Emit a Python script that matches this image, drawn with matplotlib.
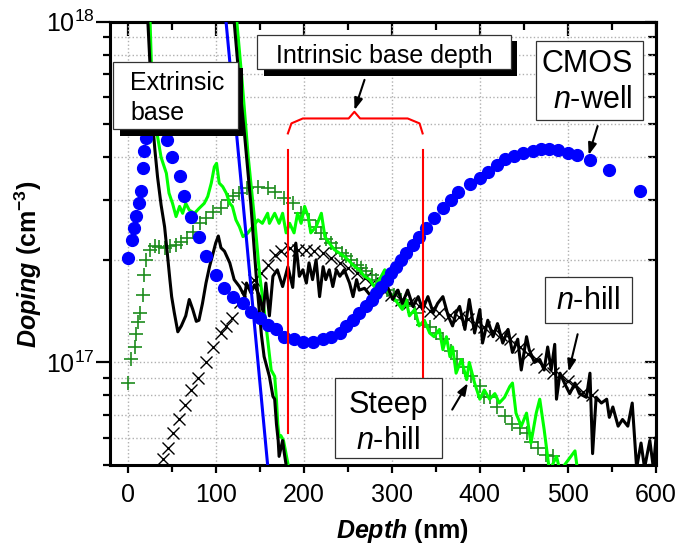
import matplotlib
matplotlib.use('Agg')
import numpy as np
import matplotlib.pyplot as plt
from matplotlib.patches import Rectangle
from matplotlib.ticker import LogLocator, NullFormatter, MultipleLocator

# ---------------- data ----------------
# CMOS n-well (blue circles)
nwell_x = [0, 5, 7.6, 9.5, 13, 15, 17, 19, 21, 24, 27, 31, 36, 41, 45, 50, 59, 64, 72, 81, 89,
           100, 110, 120, 131, 140, 150, 159, 169, 178, 189, 199, 210, 222, 231, 241, 248, 256,
           263, 271, 277, 282, 288, 294, 299, 305, 311, 316, 324, 331, 339, 348, 358, 367, 375,
           389, 400, 409, 419, 429, 439, 449, 460, 469, 479, 489, 500, 510, 525, 547, 582]
nwell_y = [2.03e17, 2.28e17, 2.48e17, 2.69e17, 2.93e17, 3.19e17, 3.71e17, 4.16e17, 4.55e17,
           5.1e17, 5.6e17, 5.9e17, 5.8e17, 5.2e17, 4.5e17, 4.0e17, 3.52e17, 3.07e17, 2.68e17,
           2.34e17, 2.05e17, 1.81e17, 1.65e17, 1.56e17, 1.49e17, 1.41e17, 1.35e17, 1.29e17,
           1.25e17, 1.19e17, 1.17e17, 1.15e17, 1.15e17, 1.17e17, 1.19e17, 1.22e17, 1.28e17,
           1.33e17, 1.40e17, 1.46e17, 1.53e17, 1.60e17, 1.67e17, 1.75e17, 1.83e17, 1.91e17,
           2.00e17, 2.09e17, 2.21e17, 2.34e17, 2.48e17, 2.65e17, 2.83e17, 3.00e17, 3.17e17,
           3.34e17, 3.48e17, 3.63e17, 3.80e17, 3.95e17, 4.04e17, 4.11e17, 4.18e17, 4.23e17,
           4.23e17, 4.20e17, 4.13e17, 4.06e17, 3.93e17, 3.66e17, 3.19e17]

# base profile (blue line)
base_x = [111, 159]
base_y = [1.05e18, 5.0e16]

# n-hill SIMS steep part (black) and steep n-hill SIMS steep part (green)
nh_steep_x = [119, 121, 127, 133, 140, 146, 152, 155, 161, 165, 167, 169, 171, 172, 176, 178, 180, 181]
nh_steep_y = [1.15e18, 1.0e18, 6.6e17, 4.6e17, 2.9e17, 1.8e17, 1.2e17, 1.04e17, 9.1e16, 7.95e16,
              7.8e16, 6.6e16, 5.9e16, 5.3e16, 5.9e16, 5.4e16, 5.0e16, 4.8e16]
snh_steep_x = [122, 124, 130, 137, 145, 150, 155, 159, 163, 167, 169, 170.5, 172, 174, 177, 179, 182, 183]
snh_steep_y = [1.15e18, 1.0e18, 6.7e17, 4.0e17, 2.5e17, 1.8e17, 1.43e17, 1.17e17, 9.5e16, 9.1e16,
               7.8e16, 6.6e16, 6.05e16, 6.1e16, 5.9e16, 5.55e16, 5.05e16, 4.8e16]

# n-hill SIMS (black noisy)
nh_x = [21, 23, 26, 28, 31, 34, 38, 42, 45, 48, 50, 53, 57, 61, 66, 70, 74, 78, 81, 85, 89, 93,
        97, 100, 103, 106, 110, 116, 121, 127, 133, 135, 140, 144, 150, 154, 157, 161, 165, 170,
        176, 182, 187.5, 191, 195, 199, 203, 206, 210, 214, 218, 222, 225, 229, 233, 237, 241,
        246, 252, 256, 260, 263, 269, 275, 282, 290, 295, 301, 307, 312, 318, 324, 330, 335,
        341, 347, 352, 358, 364, 369, 373, 377, 383, 388, 394, 400, 403, 409, 415, 420, 426,
        432, 437, 443, 447, 453, 456, 462, 468, 473, 477, 481, 485, 487, 491, 496, 502, 508,
        513, 521, 525, 528, 532, 538, 544, 547, 551, 557, 562, 568, 573, 578, 583, 587, 593,
        597, 600]
nh_y = [1.2e18, 1.0e18, 7.0e17, 5.2e17, 4.2e17, 3.5e17, 2.9e17, 2.5e17, 2.1e17, 1.75e17, 1.56e17,
        1.40e17, 1.23e17, 1.28e17, 1.37e17, 1.53e17, 1.43e17, 1.32e17, 1.33e17, 1.49e17, 1.71e17,
        1.91e17, 2.09e17, 2.24e17, 2.35e17, 2.17e17, 2.12e17, 1.96e17, 1.75e17, 1.67e17, 1.56e17,
        1.71e17, 1.60e17, 1.69e17, 1.56e17, 1.40e17, 1.71e17, 1.37e17, 1.79e17, 1.87e17, 1.67e17,
        1.91e17, 1.66e17, 2.24e17, 1.79e17, 1.87e17, 1.71e17, 1.96e17, 1.75e17, 2.0e17, 1.56e17,
        1.91e17, 1.75e17, 1.87e17, 1.67e17, 1.87e17, 1.79e17, 1.87e17, 1.71e17, 1.56e17, 1.75e17,
        1.63e17, 1.65e17, 1.58e17, 1.55e17, 1.60e17, 1.67e17, 1.53e17, 1.63e17, 1.49e17, 1.63e17,
        1.46e17, 1.56e17, 1.43e17, 1.56e17, 1.40e17, 1.49e17, 1.56e17, 1.37e17, 1.28e17, 1.40e17,
        1.46e17, 1.25e17, 1.53e17, 1.22e17, 1.43e17, 1.14e17, 1.33e17, 1.19e17, 1.30e17, 1.14e17,
        1.25e17, 1.07e17, 1.17e17, 9.5e16, 1.19e17, 1.09e17, 1.0e17, 1.02e17, 9.5e16, 1.11e17,
        9.5e16, 1.13e17, 7.8e16, 9.3e16, 8.7e16, 8.1e16, 8.7e16, 8.1e16, 7.9e16, 9.3e16, 5.4e16,
        7.9e16, 7.6e16, 7.8e16, 6.9e16, 7.4e16, 6.5e16, 6.8e16, 6.5e16, 7.6e16, 4.9e16, 5.8e16,
        4.9e16, 5.9e16, 4.9e16, 6.0e16]

# steep n-hill SIMS (green noisy)
snh_x = [25, 25.5, 27, 30, 34, 38, 44, 47, 51, 55, 59, 62.5, 66, 70, 76, 81, 87, 91, 95, 98.5,
         101, 104, 108, 112, 116, 119, 123, 127, 131, 136, 142, 148, 153, 159, 161, 167, 172,
         176, 180, 184, 189, 193, 197, 201, 205, 208, 214, 220, 224, 229, 235, 241, 246, 252,
         258, 263, 269, 275, 280, 286, 292, 295, 301, 307, 312, 316, 320, 326, 331, 337, 343,
         348, 354, 358, 362, 366, 369, 373, 379, 385, 388, 394, 400, 405, 411, 417, 422, 428,
         434, 437, 441, 447, 453, 458, 464, 468, 473, 479, 487, 491, 508, 511]
snh_y = [1.2e18, 1.0e18, 7.5e17, 6.0e17, 4.6e17, 4.0e17, 3.59e17, 3.14e17, 2.93e17, 2.68e17,
         2.87e17, 2.74e17, 2.93e17, 2.8e17, 2.74e17, 2.83e17, 2.93e17, 3.07e17, 3.36e17, 3.75e17,
         3.84e17, 3.36e17, 3.28e17, 3.14e17, 2.93e17, 2.87e17, 2.62e17, 2.5e17, 2.34e17, 2.39e17,
         2.5e17, 2.62e17, 2.56e17, 2.74e17, 2.56e17, 2.74e17, 2.56e17, 2.74e17, 2.4e17, 2.56e17,
         2.4e17, 2.74e17, 2.56e17, 2.87e17, 2.68e17, 2.4e17, 2.5e17, 2.74e17, 2.34e17, 2.24e17,
         2.14e17, 2.09e17, 2.05e17, 1.98e17, 1.91e17, 1.87e17, 1.79e17, 1.75e17, 1.67e17, 1.75e17,
         1.87e17, 1.63e17, 1.56e17, 1.49e17, 1.43e17, 1.53e17, 1.37e17, 1.43e17, 1.28e17, 1.33e17,
         1.22e17, 1.19e17, 1.25e17, 1.09e17, 1.19e17, 1.04e17, 1.11e17, 9.3e16, 1.02e17, 8.9e16,
         1.0e17, 8.7e16, 7.8e16, 8.3e16, 7.8e16, 8.1e16, 7.6e16, 7.9e16, 8.5e16, 8.7e16, 7.1e16,
         6.5e16, 7.1e16, 5.8e16, 7.1e16, 7.8e16, 6.35e16, 4.8e16, 5.3e16, 4.8e16, 5.5e16, 4.8e16]

# simulated steep n-hill (green +)
sim_snh_x = [0, 4, 8, 10, 12, 14, 17, 19, 21, 25, 31, 36, 42, 48, 55, 61, 67, 74, 82, 89, 97, 106,
             114, 120, 127, 136, 148, 159, 167, 178, 188, 197, 206, 214, 220, 225, 231, 237, 243,
             248, 254, 260, 265, 271, 277, 282, 288, 295, 303, 311, 318, 326, 335, 343, 350, 358,
             367, 374, 381, 390, 400, 405, 411, 420, 428, 436, 445, 453, 458, 466, 475, 483]
sim_snh_y = [8.7e16, 1.02e17, 1.11e17, 1.21e17, 1.31e17, 1.40e17, 1.58e17, 1.81e17, 2.0e17, 2.14e17,
             2.19e17, 2.18e17, 2.17e17, 2.19e17, 2.21e17, 2.26e17, 2.32e17, 2.42e17, 2.57e17,
             2.65e17, 2.77e17, 2.84e17, 3.0e17, 3.07e17, 3.14e17, 3.24e17, 3.28e17, 3.24e17,
             3.17e17, 3.03e17, 2.93e17, 2.74e17, 2.62e17, 2.5e17, 2.39e17, 2.31e17, 2.24e17,
             2.16e17, 2.09e17, 2.05e17, 2.0e17, 1.93e17, 1.89e17, 1.85e17, 1.81e17, 1.75e17,
             1.69e17, 1.63e17, 1.58e17, 1.53e17, 1.46e17, 1.40e17, 1.29e17, 1.27e17, 1.22e17,
             1.17e17, 1.08e17, 1.02e17, 9.7e16, 9.1e16, 8.5e16, 7.9e16, 7.9e16, 7.4e16, 6.95e16,
             6.6e16, 6.4e16, 6.2e16, 5.85e16, 5.6e16, 5.35e16, 5.3e16]

# simulated n-hill (black x)
sim_nh_x = [40, 46, 52, 58, 65, 72, 80, 89, 97, 106, 112, 119, 128, 136, 144, 152, 159, 167, 174,
            184, 193, 203, 212, 222, 231, 241, 250, 260, 269, 278, 290, 299, 311, 320, 331, 343,
            354, 366, 376, 386, 396, 405, 415, 424, 434, 445, 455, 464, 473, 483, 492, 500, 508,
            517, 527]
sim_nh_y = [5.2e16, 5.6e16, 6.2e16, 6.8e16, 7.5e16, 8.3e16, 9.0e16, 1.0e17, 1.11e17, 1.22e17,
            1.28e17, 1.35e17, 1.5e17, 1.67e17, 1.75e17, 1.83e17, 1.93e17, 2.07e17, 2.12e17,
            2.16e17, 2.14e17, 2.14e17, 2.12e17, 2.09e17, 2.02e17, 1.96e17, 1.89e17, 1.83e17,
            1.77e17, 1.71e17, 1.63e17, 1.58e17, 1.53e17, 1.49e17, 1.46e17, 1.42e17, 1.40e17,
            1.38e17, 1.36e17, 1.34e17, 1.30e17, 1.27e17, 1.24e17, 1.20e17, 1.17e17, 1.11e17,
            1.06e17, 1.02e17, 9.7e16, 9.3e16, 9.1e16, 8.8e16, 8.5e16, 8.2e16, 8.0e16]

# intrinsic base depth marker (red)
bd_left_x = [182, 182]
bd_left_y = [4.2e17, 6.2e16]
bd_right_x = [335, 335]
bd_right_y = [4.2e17, 9.0e16]
brace_x = [182, 186, 199, 251, 257.5, 264, 318, 331.5, 335]
brace_y = [4.7e17, 5.03e17, 5.2e17, 5.2e17, 5.44e17, 5.2e17, 5.2e17, 5.03e17, 4.7e17]

# ---------------- style ----------------
plt.rcParams['font.family'] = ['Liberation Sans', 'DejaVu Sans']
plt.rcParams['mathtext.fontset'] = 'custom'
plt.rcParams['mathtext.rm'] = 'Liberation Sans'
plt.rcParams['mathtext.it'] = 'Liberation Sans:italic'
plt.rcParams['mathtext.bf'] = 'Liberation Sans:bold'
plt.rcParams['mathtext.bfit'] = 'Liberation Sans:italic:bold'

W, H = 679, 547
fig = plt.figure(figsize=(W / 100, H / 100), dpi=100)
ax = fig.add_axes([110 / W, 1 - 465 / H, 546 / W, 443.3 / H])

ax.plot(sim_nh_x, sim_nh_y, ls='none', marker='x', ms=9, mew=1.0, color='black', zorder=2)
ax.plot(sim_snh_x, sim_snh_y, ls='none', marker='+', ms=10, mew=1.2, color='#1e8c1e', zorder=2)
ax.plot(snh_x, snh_y, color='#00ff00', lw=2.2, zorder=3)
ax.plot(nh_x, nh_y, color='black', lw=2.2, zorder=4)
ax.plot(snh_steep_x, snh_steep_y, color='#00ff00', lw=2.2, zorder=3)
ax.plot(nh_steep_x, nh_steep_y, color='black', lw=2.2, zorder=4)
ax.plot(base_x, base_y, color='#0000ff', lw=2.2, zorder=5)
ax.plot(nwell_x, nwell_y, ls='none', marker='o', ms=8.5, color='#0000ff', mec='#0000ff', zorder=6)
ax.plot(bd_left_x, bd_left_y, color='red', lw=1.5, zorder=7)
ax.plot(bd_right_x, bd_right_y, color='red', lw=1.5, zorder=7)
ax.plot(brace_x, brace_y, color='red', lw=1.5, zorder=7)

ax.set_yscale('log')
ax.set_xlim(-20, 600)
ax.set_ylim(5e16, 1e18)
ax.xaxis.set_major_locator(MultipleLocator(100))
ax.xaxis.set_minor_locator(MultipleLocator(50))
ax.yaxis.set_major_locator(LogLocator(base=10))
ax.yaxis.set_minor_locator(LogLocator(base=10, subs=np.arange(2, 10)))
ax.yaxis.set_minor_formatter(NullFormatter())
ax.set_axisbelow(True)
ax.grid(True, which='major', axis='x', ls=':', color='#b0b0b0', lw=1)
ax.grid(True, which='both', axis='y', ls=':', color='#b0b0b0', lw=1)

for s in ax.spines.values():
    s.set_linewidth(2.2)
ax.tick_params(axis='x', which='major', direction='out', length=6, width=1.6, labelsize=18, pad=7,
               top=False)
ax.tick_params(axis='x', which='minor', direction='out', length=5, width=1.6, top=False)
ax.tick_params(axis='y', which='major', direction='out', length=10, width=1.6, labelsize=18, pad=1,
               right=False)
ax.tick_params(axis='y', which='minor', direction='out', length=5, width=1.6, right=False)

secx = ax.secondary_xaxis('top')
secx.xaxis.set_major_locator(MultipleLocator(100))
secx.xaxis.set_minor_locator(MultipleLocator(50))
secx.tick_params(axis='x', which='major', direction='in', length=10, width=1.6, labeltop=False)
secx.tick_params(axis='x', which='minor', direction='in', length=6, width=1.6)
secx.spines['top'].set_linewidth(2.2)
secy = ax.secondary_yaxis('right')
secy.yaxis.set_major_locator(LogLocator(base=10))
secy.yaxis.set_minor_locator(LogLocator(base=10, subs=np.arange(2, 10)))
secy.yaxis.set_minor_formatter(NullFormatter())
secy.tick_params(axis='y', which='major', direction='in', length=8, width=1.6, labelright=False)
secy.tick_params(axis='y', which='minor', direction='in', length=6, width=1.6)
secy.spines['right'].set_linewidth(2.2)

ax.set_xlabel(r'$\mathbfit{Depth}$ (nm)', fontsize=18, fontweight='bold')
ax.xaxis.set_label_coords((402 - 110) / 546, (465 - 517) / 443.3)
ax.set_ylabel(r'$\mathbfit{Doping}$ (cm$^{\mathbf{-3}}$)', fontsize=18, fontweight='bold')
ax.yaxis.set_label_coords((44 - 110) / 546, (465 - 264) / 443.3)

# ---------------- annotations ----------------
def fx(x):
    return x / W

def fy(y):
    return 1 - y / H

def box(x0, y0, x1, y1, shadow=None, z=20):
    if shadow is not None:
        sx0, sy0, sx1, sy1 = shadow
        fig.add_artist(Rectangle((fx(sx0), fy(sy1)), (sx1 - sx0) / W, (sy1 - sy0) / H,
                                 transform=fig.transFigure, facecolor='black', edgecolor='none',
                                 zorder=z))
    fig.add_artist(Rectangle((fx(x0), fy(y1)), (x1 - x0) / W, (y1 - y0) / H,
                             transform=fig.transFigure, facecolor='white', edgecolor='#333333',
                             lw=0.9, zorder=z + 1))

box(113, 62, 238, 129, shadow=(120, 68, 243, 136))
fig.text(fx(130), fy(98), 'Extrinsic\nbase', fontsize=18, ha='left', va='center',
         linespacing=1.3, zorder=30)

box(257, 35, 511, 69, shadow=(264, 41, 517, 76))
fig.text(fx(384), fy(55.5), 'Intrinsic base depth', fontsize=18, ha='center', va='center', zorder=30)

box(536, 41, 643, 120)
fig.text(fx(633), fy(82), 'CMOS\n$\\mathit{n}$-well', fontsize=22, ha='right', va='center',
         multialignment='right', linespacing=1.3, zorder=30)

box(545, 277, 632, 323)
fig.text(fx(588.5), fy(301), '$\\mathit{n}$-hill', fontsize=22, ha='center', va='center', zorder=30)

box(335, 378, 442, 458)
fig.text(fx(388), fy(423), 'Steep\n$\\mathit{n}$-hill', fontsize=22, ha='center', va='center',
         multialignment='center', linespacing=1.25, zorder=30)

arrow = dict(arrowstyle='-|>,head_length=0.7,head_width=0.25', color='black', lw=1.5,
             shrinkA=0, shrinkB=0)
ax.annotate('', xy=(257.6, 5.5e17), xytext=(269, 6.75e17), arrowprops=arrow, zorder=9)
ax.annotate('', xy=(523.5, 4.06e17), xytext=(533.7, 4.94e17), arrowprops=arrow, zorder=9)
ax.annotate('', xy=(500.8, 9.4e16), xytext=(511, 1.21e17), arrowprops=arrow, zorder=9)
ax.annotate('', xy=(386.4, 8.7e16), xytext=(368.6, 7.27e16), arrowprops=arrow, zorder=9)

fig.savefig('out.png', dpi=100)
